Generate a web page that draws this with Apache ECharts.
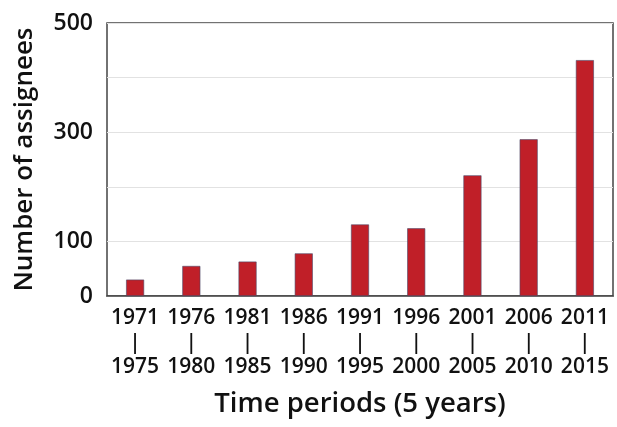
<!DOCTYPE html>
<html>
<head>
<meta charset="utf-8">
<script src="https://cdn.jsdelivr.net/npm/echarts@6/dist/echarts.min.js"></script>
<style>
  html, body { margin: 0; padding: 0; background: #fff; }
  #chart { width: 617px; height: 427px; }
</style>
</head>
<body>
<div id="chart"></div>
<script>
// periods (start / end year) and counts
const startYears = ['1971', '1976', '1981', '1986', '1991', '1996', '2001', '2006', '2011'];
const endYears = ['1975', '1980', '1985', '1990', '1995', '2000', '2005', '2010', '2015'];
const assignees = [30, 55, 63, 78, 131, 124, 221, 287, 432];
const shownTicks = [0, 100, 300, 500];

const categories = startYears.map((s, i) => s + '\n|\n' + endYears[i]);

const chart = echarts.init(document.getElementById('chart'));
chart.setOption({
    animation: false,
    grid: {
        left: 107, right: 4, top: 23, bottom: 131,
        outerBoundsMode: 'none', containLabel: false,
        show: true, borderColor: '#444', borderWidth: 1.5, backgroundColor: '#fff'
    },
    xAxis: {
        type: 'category',
        data: categories,
        name: 'Time periods (5 years)',
        nameLocation: 'middle',
        nameGap: 94,
        nameTextStyle: { fontFamily: 'Open Sans', fontSize: 27.5, fontWeight: 600, color: '#111' },
        axisLine: { lineStyle: { color: '#444', width: 1.5 } },
        axisTick: { show: false },
        axisLabel: {
            fontFamily: 'Open Sans', fontSize: 21, fontWeight: 600, color: '#111',
            lineHeight: 24.5, margin: 10, interval: 0
        }
    },
    yAxis: {
        type: 'value',
        min: 0, max: 500, interval: 100,
        name: 'Number of assignees',
        nameLocation: 'middle',
        nameGap: 69,
        nameTextStyle: { fontFamily: 'Open Sans', fontSize: 26, fontWeight: 600, color: '#111' },
        axisLine: { show: false },
        axisTick: { show: false },
        splitLine: { lineStyle: { color: '#e2e2e2', width: 1 } },
        axisLabel: {
            fontFamily: 'Open Sans', fontSize: 23, fontWeight: 600, color: '#111', margin: 14,
            formatter: v => shownTicks.includes(v) ? String(v) : ''
        }
    },
    series: [{
        type: 'bar',
        data: assignees,
        barWidth: 18,
        itemStyle: { color: '#c01f28', borderColor: '#4a4a6a', borderWidth: 0.6 }
    }]
});
</script>
</body>
</html>
